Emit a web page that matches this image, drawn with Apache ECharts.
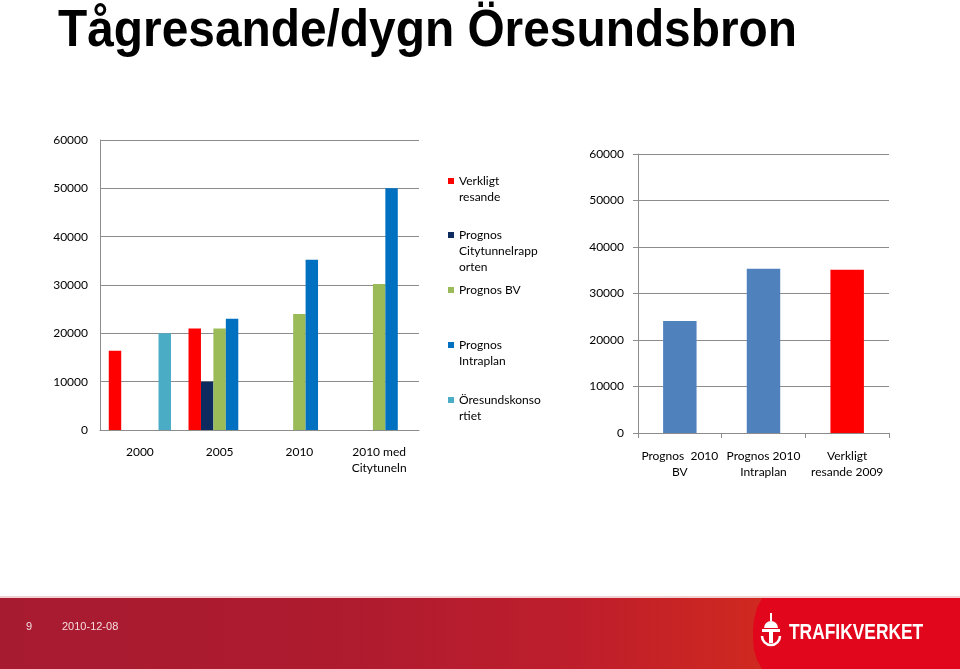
<!DOCTYPE html>
<html><head><meta charset="utf-8">
<script src="https://cdn.jsdelivr.net/npm/echarts@6/dist/echarts.min.js"></script>
<style>html,body{margin:0;padding:0;background:#fff}#c{width:960px;height:669px}</style>
</head><body><div id="c"></div>
<script>
// ---- data ----
var leftCategories = ['2000', '2005', '2010', '2010 med\nCitytuneln'];
var verkligt   = [16400, 21000, null, null];
var cityTunnel = [null, 10000, null, null];
var prognosBV  = [null, 21000, 24000, 30200];
var intraplan  = [null, 23000, 35200, 50000];
var oresund    = [20000, null, null, null];
var rightCategories = ['Prognos  2010\nBV', 'Prognos 2010\nIntraplan', 'Verkligt\nresande 2009'];
var rightValues = [24100, 35300, 35100];
var yTicks = [0, 10000, 20000, 30000, 40000, 50000, 60000];
var seriesNames = ['Verkligt resande', 'Prognos Citytunnelrapporten', 'Prognos BV', 'Prognos Intraplan', 'Öresundskonsortiet'];
var legendLabels = ['Verkligt\nresande', 'Prognos\nCitytunnelrapp\norten', 'Prognos BV', 'Prognos\nIntraplan', 'Öresundskonso\nrtiet'];
var colors = ['#FF0000', '#0D2B5E', '#9BBB59', '#0070C0', '#4BACC6'];
var rightColors = ['#4F81BD', '#4F81BD', '#FF0000'];

var FONT = 'Lato';
var grid = '#8C8C8C';
function yAxis(gi, margin, ticks) {
  return {
    type: 'value', gridIndex: gi, min: yTicks[0], max: yTicks[yTicks.length - 1],
    interval: yTicks[1] - yTicks[0],
    axisLine: { show: true, lineStyle: { color: grid, width: 1 } },
    axisTick: { show: ticks, length: 5, lineStyle: { color: grid } },
    axisLabel: { color: '#000', fontFamily: FONT, fontSize: 12, margin: margin,
      formatter: function (v) { return String(v); } },
    splitLine: { lineStyle: { color: grid, width: 1 } }
  };
}
var leftData = [verkligt, cityTunnel, prognosBV, intraplan, oresund];
var series = leftData.map(function (d, i) {
  return {
    type: 'bar', name: seriesNames[i], xAxisIndex: 0, yAxisIndex: 0, data: d,
    barGap: '0%', barCategoryGap: '22%', itemStyle: { color: colors[i] }, silent: true
  };
});
series.push({
  type: 'bar', name: 'right', xAxisIndex: 1, yAxisIndex: 1, barCategoryGap: '60%', silent: true,
  data: rightValues.map(function (v, i) { return { value: v, itemStyle: { color: rightColors[i] } }; })
});

// legend: first text line aligned with the marker (blank lines prepended to centre-align)
var legendTops = [157, 195, 282, 321, 376];
var legends = seriesNames.map(function (n, i) {
  var lines = legendLabels[i].split('\n');
  var pre = '';
  for (var k = 1; k < lines.length; k++) pre += ' \n';
  return {
    data: [n], left: 448, top: legendTops[i], padding: 0, orient: 'vertical',
    icon: 'rect', itemWidth: 6, itemHeight: 6, selectedMode: false,
    formatter: function () { return pre + legendLabels[i]; },
    textStyle: { color: '#000', fontFamily: FONT, fontSize: 12, lineHeight: 16 }
  };
});

var curve = [[762, 598], [960, 598], [960, 669], [762, 669], [757, 660], [754, 650], [753, 640], [753, 630], [754, 620], [757, 608]];

var chart = echarts.init(document.getElementById('c'), null, { renderer: 'canvas' });
chart.setOption({
  animation: false,
  backgroundColor: '#fff',
  legend: legends,
  grid: [
    { left: 100, top: 140, width: 319, height: 290 },
    { left: 638, top: 154, width: 251, height: 279 }
  ],
  xAxis: [
    { type: 'category', gridIndex: 0, data: leftCategories,
      axisLine: { lineStyle: { color: grid } }, axisTick: { show: false },
      axisLabel: { color: '#000', fontFamily: FONT, fontSize: 12, lineHeight: 16, margin: 14, interval: 0 } },
    { type: 'category', gridIndex: 1, data: rightCategories,
      axisLine: { lineStyle: { color: grid } }, axisTick: { show: true, length: 5, lineStyle: { color: grid } },
      axisLabel: { color: '#000', fontFamily: FONT, fontSize: 12, lineHeight: 16, margin: 15, interval: 0 } }
  ],
  yAxis: [yAxis(0, 12, false), yAxis(1, 14, true)],
  series: series,
  graphic: [
    { type: 'text', x: 58, y: 6, scaleX: 0.92,
      style: { text: 'Tågresande/dygn Öresundsbron', font: 'bold 52px "Liberation Sans", Arial, sans-serif', fill: '#000' } },
    { type: 'rect', shape: { x: 0, y: 596, width: 960, height: 2 }, style: { fill: '#F2CFD2' } },
    { type: 'rect', shape: { x: 0, y: 598, width: 960, height: 71 },
      style: { fill: new echarts.graphic.LinearGradient(0, 0, 1, 0, [
        { offset: 0, color: '#A71B31' }, { offset: 0.35, color: '#AE1B2F' },
        { offset: 0.6, color: '#BE1E2C' }, { offset: 0.8, color: '#D0291F' }, { offset: 1, color: '#D0291F' }]) } },
    { type: 'polygon', shape: { points: curve }, style: { fill: '#E2061C' } },
    { type: 'text', x: 26, y: 621, style: { text: '9', font: '11px "Liberation Sans", Arial', fill: '#F6DCDF' } },
    { type: 'text', x: 62, y: 621, style: { text: '2010-12-08', font: '11px "Liberation Sans", Arial', fill: '#F6DCDF' } },
    // crown/T logo
    { type: 'sector', shape: { cx: 771, cy: 628, r: 7, startAngle: Math.PI, endAngle: 2 * Math.PI }, style: { fill: '#fff' } },
    { type: 'rect', shape: { x: 770, y: 613, width: 2, height: 8 }, style: { fill: '#fff' } },
    { type: 'rect', shape: { x: 762, y: 629, width: 18, height: 3 }, style: { fill: '#fff' } },
    { type: 'rect', shape: { x: 769, y: 631, width: 4, height: 12 }, style: { fill: '#fff' } },
    { type: 'arc', shape: { cx: 771, cy: 636, r: 9, startAngle: 0, endAngle: Math.PI }, style: { stroke: '#fff', lineWidth: 2.5, fill: null } },
    { type: 'text', x: 789, y: 622, scaleX: 0.79,
      style: { text: 'TRAFIKVERKET', font: 'bold 22px "Liberation Sans", Arial', fill: '#fff' } }
  ]
});
</script></body></html>
